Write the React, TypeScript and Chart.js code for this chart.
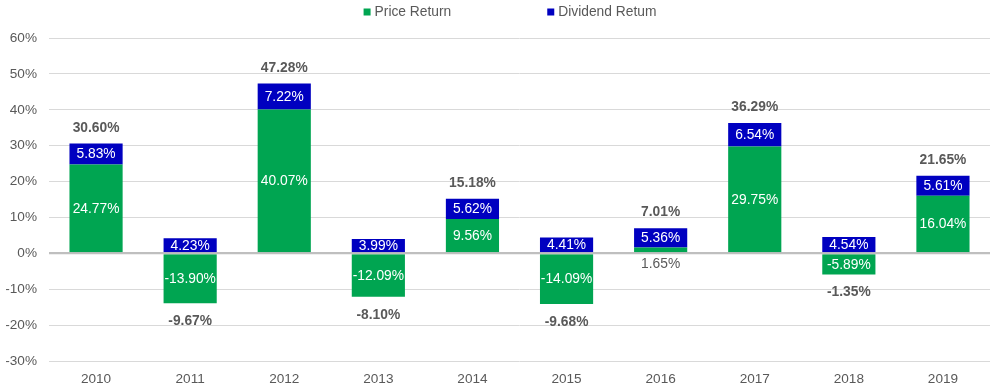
import React, { useEffect, useRef } from 'react';
import { Chart, registerables } from 'chart.js';

Chart.register(...registerables);

const years = ['2010', '2011', '2012', '2013', '2014', '2015', '2016', '2017', '2018', '2019'];
const priceReturn = [24.77, -13.9, 40.07, -12.09, 9.56, -14.09, 1.65, 29.75, -5.89, 16.04];
const dividendReturn = [5.83, 4.23, 7.22, 3.99, 5.62, 4.41, 5.36, 6.54, 4.54, 5.61];
const totalReturn = [30.6, -9.67, 47.28, -8.1, 15.18, -9.68, 7.01, 36.29, -1.35, 21.65];
const seriesNames = ['Price Return', 'Dividend Retum'];
const seriesColors = ['#00a551', '#0000c0'];
const yMin = -30;
const yMax = 60;
const yStep = 10;

const FONT = '"Liberation Sans", Arial, sans-serif';
const FS = 13.8;
const AXFS = 13.6;
const GRAY = '#595959';

const labelPlugin = {
  id: 'labels',
  afterDatasetsDraw(chart: any) {
    const ctx = chart.ctx;
    const yScale = chart.scales.y;
    const area = chart.chartArea;
    const zy = yScale.getPixelForValue(0);
    ctx.save();
    ctx.strokeStyle = '#bfbfbf';
    ctx.lineWidth = 2;
    ctx.beginPath();
    ctx.moveTo(area.left, zy);
    ctx.lineTo(area.right, zy);
    ctx.stroke();

    ctx.textAlign = 'center';
    ctx.textBaseline = 'middle';
    const metas = [chart.getDatasetMeta(0), chart.getDatasetMeta(1)];
    const tops: number[] = [];
    const bottoms: number[] = [];
    metas.forEach((meta: any, di: number) => {
      meta.data.forEach((bar: any, i: number) => {
        const p = bar.getProps(['x', 'y', 'base'], true);
        const v = chart.data.datasets[di].data[i] as number;
        const h = Math.abs(p.base - p.y);
        const t = Math.min(p.y, p.base);
        const b = Math.max(p.y, p.base);
        tops[i] = tops[i] === undefined ? t : Math.min(tops[i], t);
        bottoms[i] = bottoms[i] === undefined ? b : Math.max(bottoms[i], b);
        const text = v.toFixed(2) + '%';
        ctx.font = `${FS}px ${FONT}`;
        if (h < 9) {
          ctx.fillStyle = GRAY;
          ctx.fillText(text, p.x, b + 12);
        } else {
          ctx.fillStyle = '#ffffff';
          ctx.fillText(text, p.x, (p.y + p.base) / 2 + 0.5);
        }
      });
    });
    ctx.font = `bold ${FS}px ${FONT}`;
    ctx.fillStyle = GRAY;
    metas[0].data.forEach((bar: any, i: number) => {
      const x = bar.getProps(['x'], true).x;
      const tv = totalReturn[i];
      const text = tv.toFixed(2) + '%';
      if (tv >= 0) ctx.fillText(text, x, tops[i] - 15.5);
      else ctx.fillText(text, x, bottoms[i] + 18);
    });
    ctx.restore();
  },
};

const legendPlugin = {
  id: 'customLegend',
  afterDraw(chart: any) {
    const ctx = chart.ctx;
    ctx.save();
    ctx.font = `${FS}px ${FONT}`;
    ctx.textBaseline = 'middle';
    ctx.textAlign = 'left';
    const box = 7;
    const gapText = 4;
    const itemGap = 96;
    const widths = seriesNames.map((n) => box + gapText + ctx.measureText(n).width);
    const total = widths.reduce((a, b) => a + b, 0) + itemGap * (widths.length - 1);
    const cx = chart.width * (510 / 998);
    let x = cx - total / 2;
    const cy = 12;
    seriesNames.forEach((n, i) => {
      ctx.fillStyle = seriesColors[i];
      ctx.fillRect(x, cy - box / 2, box, box);
      ctx.fillStyle = GRAY;
      ctx.fillText(n, x + box + gapText, cy + 0.5);
      x += widths[i] + itemGap;
    });
    ctx.restore();
  },
};

export default function App() {
  const ref = useRef<HTMLCanvasElement | null>(null);
  useEffect(() => {
    if (!ref.current) return;
    const chart = new Chart(ref.current, {
      type: 'bar',
      data: {
        labels: years,
        datasets: [
          {
            label: seriesNames[0],
            data: priceReturn,
            backgroundColor: seriesColors[0],
            barPercentage: 1,
            categoryPercentage: 0.565,
          },
          {
            label: seriesNames[1],
            data: dividendReturn,
            backgroundColor: seriesColors[1],
            barPercentage: 1,
            categoryPercentage: 0.565,
          },
        ],
      },
      options: {
        animation: false,
        responsive: true,
        maintainAspectRatio: false,
        layout: { padding: { top: 38, left: 6, right: 8, bottom: 5 } },
        plugins: {
          legend: { display: false },
          tooltip: { enabled: false },
        },
        scales: {
          x: {
            stacked: true,
            grid: { display: false, drawTicks: false },
            border: { display: false },
            ticks: { color: GRAY, font: { family: FONT, size: AXFS }, padding: 10 },
            afterFit: (s: any) => {
              s.height = 26;
            },
          },
          y: {
            stacked: true,
            min: yMin,
            max: yMax,
            border: { display: false },
            grid: {
              drawTicks: false,
              color: (c: any) => (c.tick && c.tick.value === 0 ? '#bfbfbf' : '#d9d9d9'),
              lineWidth: (c: any) => (c.tick && c.tick.value === 0 ? 2 : 1),
            },
            ticks: {
              stepSize: yStep,
              color: GRAY,
              padding: 12,
              font: { family: FONT, size: AXFS },
              callback: (v: any) => v + '%',
            },
            afterFit: (s: any) => {
              s.width = 43;
            },
          },
        },
      },
      plugins: [labelPlugin, legendPlugin],
    });
    return () => chart.destroy();
  }, []);
  return (
    <div style={{ position: 'absolute', left: 0, top: 0, width: 998, height: 392 }}>
      <canvas ref={ref} />
    </div>
  );
}
